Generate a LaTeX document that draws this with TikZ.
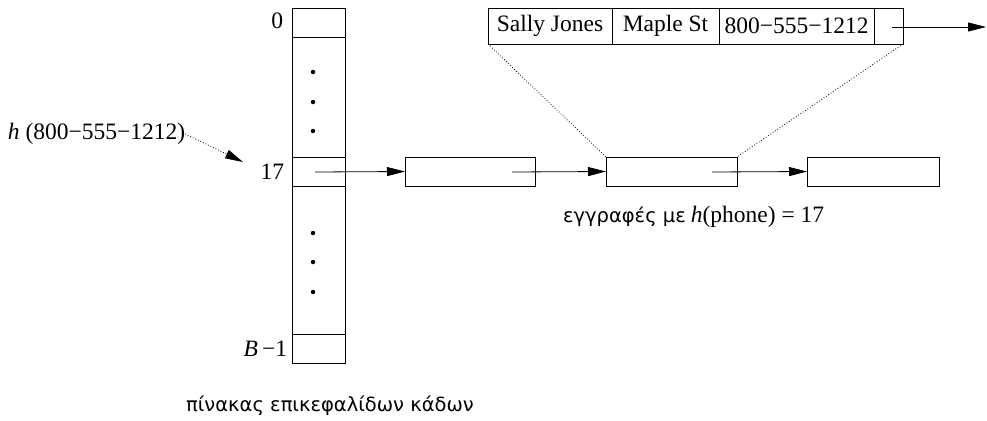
\documentclass[tikz,border=0pt]{standalone}
\usepackage{fontspec}
\setmainfont{Liberation Serif}
\newfontfamily\grk{DejaVu Sans}
\usetikzlibrary{arrows.meta}
\begin{document}
\begin{tikzpicture}[x=1pt,y=-1pt,
  every node/.style={inner sep=0pt,outer sep=0pt},
  cell/.style={draw,line width=0.8pt,minimum width=53pt},
  rec/.style={draw,line width=0.8pt,minimum height=29pt},
  fld/.style={draw,line width=0.8pt,minimum height=36pt,font=\fontsize{23.5}{26}\selectfont},
  lbl/.style={font=\fontsize{23.5}{26}\selectfont},
  gr/.style={font=\grk\fontsize{19.5}{22}\selectfont},
  tip/.style={-{Triangle[length=18pt,width=9pt]}},
  link/.style={line width=0.8pt,tip},
  dotln/.style={line width=0.8pt,dotted},
  dot/.style={circle,fill,minimum size=4.5pt}]
\useasboundingbox (0,0) rectangle (987,420);
% bucket column
\node[cell,minimum height=29pt] (c0) at (318.5,22.5) {};
\node[cell,minimum height=120pt] (m1) at (318.5,97) {};
\node[cell,minimum height=29pt] (c17) at (318.5,171.5) {};
\node[cell,minimum height=148pt] (m2) at (318.5,260) {};
\node[cell,minimum height=29pt] (cB) at (318.5,348.5) {};
\node[dot] (d1) at (313,72) {};
\node[dot] (d2) at (313,102) {};
\node[dot] (d3) at (313,131) {};
\node[dot] (d4) at (313,233) {};
\node[dot] (d5) at (313,262) {};
\node[dot] (d6) at (313,292) {};
\node[lbl,anchor=east] (l0) at (283,21) {0};
\node[lbl,anchor=east] (l17) at (284,172) {17};
\node[lbl,anchor=east] (lB) at (287,349) {\textit{B}\,−1};
% hash label
\node[lbl,anchor=west] (hl) at (8,134) {\textit{h} (800−555−1212)};
\coordinate (ht) at (243,162);
\draw[line width=0.8pt,dotted,tip] (hl.east) -- (ht);
% records
\node[rec,minimum width=130pt] (r1) at (470,171.5) {};
\node[rec,minimum width=131pt] (r2) at (671.5,171.5) {};
\node[rec,minimum width=132pt] (r3) at (873,171.5) {};
\coordinate (p0) at (315,172);
\coordinate (p1) at (512,172);
\coordinate (p2) at (712,172);
\draw[link] (p0) -- (r1.west);
\draw[link] (p1) -- (r2.west);
\draw[link] (p2) -- (r3.west);
% expanded record
\node[fld,minimum width=124pt] (f1) at (550,26) {Sally Jones};
\node[fld,minimum width=107pt,anchor=west] (f2) at (f1.east) {Maple St};
\node[fld,minimum width=155pt,anchor=west] (f3) at (f2.east) {800−555−1212};
\node[fld,minimum width=29pt,anchor=west] (f4) at (f3.east) {};
\coordinate (p3) at (892,27);
\coordinate (pe) at (986,27);
\draw[link] (p3) -- (pe);
\draw[dotln] (f1.south west) -- (r2.north west);
\draw[dotln] (f4.south east) -- (r2.north east);
% captions
\node[anchor=west] (cap1) at (563,217) {{\grk\fontsize{19.5}{22}\selectfont εγγραφές με}\ \ \fontsize{23.5}{26}\selectfont\textit{h}(phone) = 17};
\node[gr] (cap2) at (330,406) {πίνακας επικεφαλίδων κάδων};
\end{tikzpicture}
\end{document}
